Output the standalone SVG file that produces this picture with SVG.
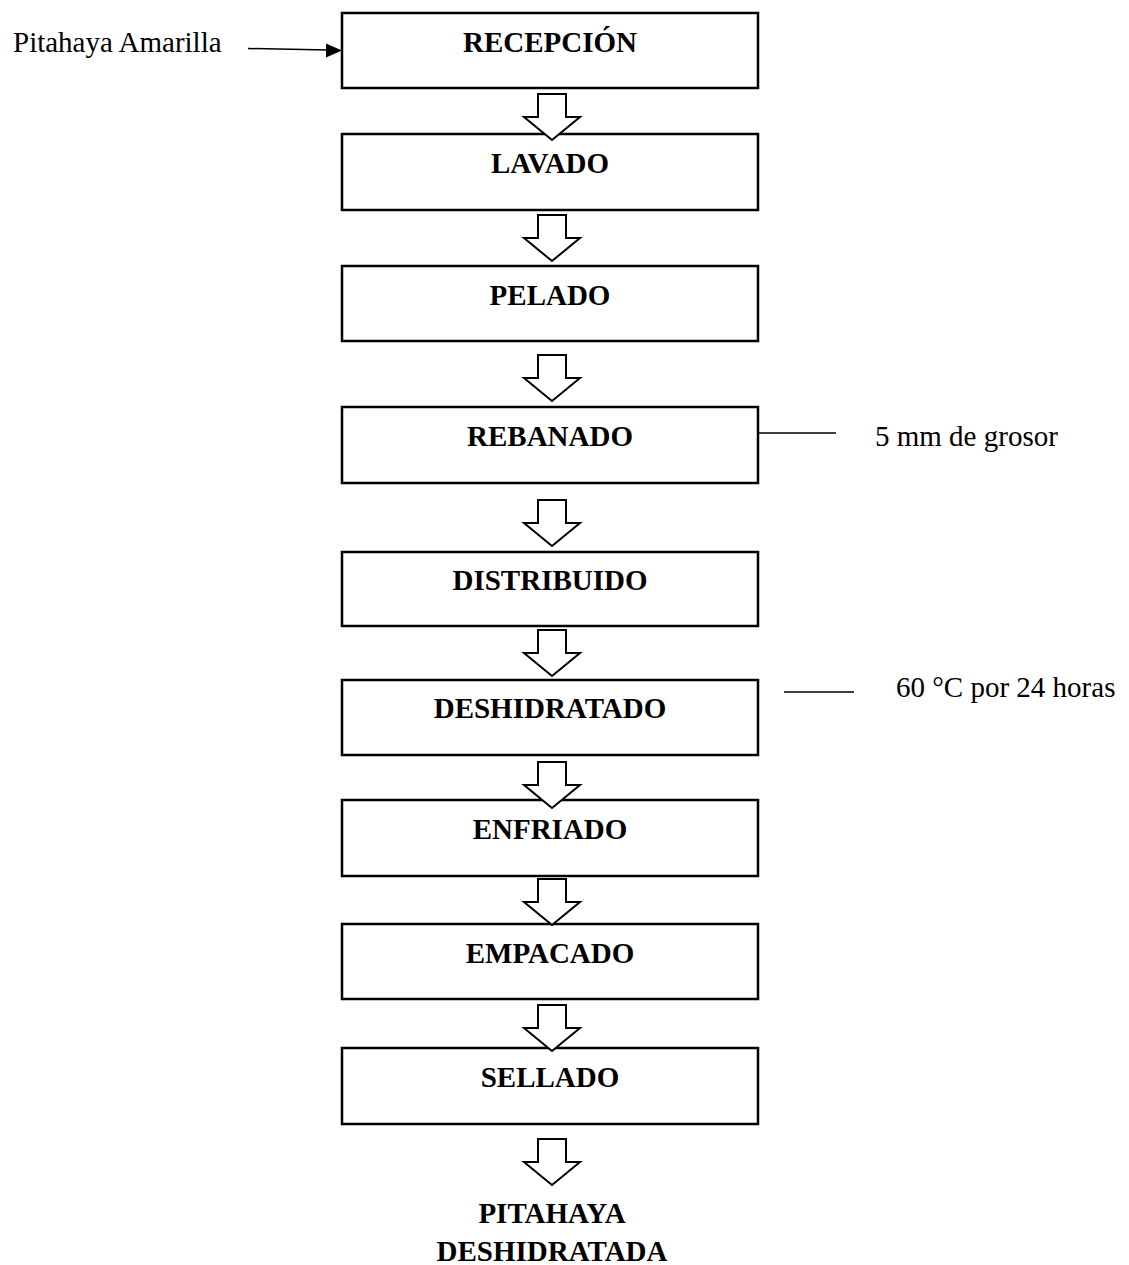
<svg xmlns="http://www.w3.org/2000/svg" width="1129" height="1265" viewBox="0 0 1129 1265">
<style>
.box{fill:#fff;stroke:#000;stroke-width:2.5}
.lbl{font-family:"Liberation Serif","Times New Roman",serif;font-size:29px;font-weight:bold;text-anchor:middle;fill:#000}
.note{font-family:"Liberation Serif","Times New Roman",serif;font-size:29px;fill:#000}
.blk{fill:#fff;stroke:#000;stroke-width:2;stroke-linejoin:miter}
.ln{stroke:#000;stroke-width:1.5;fill:none}
</style>
<defs>
<path id="barrow" d="M-14,0 H14 V23 H28 L0,46 L-28,23 H-14 Z"/>
</defs>
<g id="n1"><rect class="box" x="342" y="13" width="416" height="75"/><text class="lbl" x="550" y="52">RECEPCIÓN</text></g>
<g id="n2"><rect class="box" x="342" y="134" width="416" height="76"/><text class="lbl" x="550" y="173">LAVADO</text></g>
<g id="n3"><rect class="box" x="342" y="266" width="416" height="75"/><text class="lbl" x="550" y="305">PELADO</text></g>
<g id="n4"><rect class="box" x="342" y="407" width="416" height="76"/><text class="lbl" x="550" y="446">REBANADO</text></g>
<g id="n5"><rect class="box" x="342" y="552" width="416" height="74"/><text class="lbl" x="550" y="590">DISTRIBUIDO</text></g>
<g id="n6"><rect class="box" x="342" y="680" width="416" height="75"/><text class="lbl" x="550" y="718">DESHIDRATADO</text></g>
<g id="n7"><rect class="box" x="342" y="800" width="416" height="76"/><text class="lbl" x="550" y="839">ENFRIADO</text></g>
<g id="n8"><rect class="box" x="342" y="924" width="416" height="75"/><text class="lbl" x="550" y="963">EMPACADO</text></g>
<g id="n9"><rect class="box" x="342" y="1048" width="416" height="76"/><text class="lbl" x="550" y="1087">SELLADO</text></g>
<g id="n10"><text class="lbl" x="552" y="1223">PITAHAYA</text><text class="lbl" x="552" y="1261">DESHIDRATADA</text></g>
<g id="n-input"><text class="note" x="13" y="52">Pitahaya Amarilla</text></g>
<g id="n-note1"><text class="note" x="875" y="446">5 mm de grosor</text></g>
<g id="n-note2"><text class="note" x="896" y="697">60 °C por 24 horas</text></g>
<g id="connectors">
<line class="ln" x1="248" y1="48.5" x2="328" y2="50"/>
<polygon points="342,50.5 326,43.5 326,57.5" fill="#000"/>
<line class="ln" x1="758" y1="433" x2="836" y2="433"/>
<line class="ln" x1="784" y1="692" x2="854" y2="692"/>
<use href="#barrow" class="blk" x="552" y="94"/>
<use href="#barrow" class="blk" x="552" y="215"/>
<use href="#barrow" class="blk" x="552" y="355"/>
<use href="#barrow" class="blk" x="552" y="500"/>
<use href="#barrow" class="blk" x="552" y="630"/>
<use href="#barrow" class="blk" x="552" y="762"/>
<use href="#barrow" class="blk" x="552" y="879"/>
<use href="#barrow" class="blk" x="552" y="1005"/>
<use href="#barrow" class="blk" x="552" y="1139"/>
</g>
</svg>
